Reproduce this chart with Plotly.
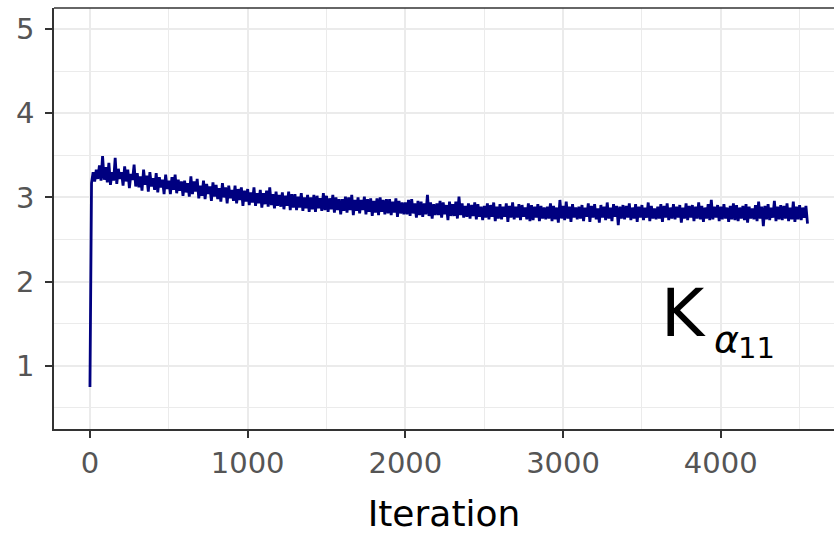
import plotly.graph_objects as go

# Trace values, one sample every 10 iterations
k_alpha11 = [
    0.75, 3.17, 3.30, 3.19, 3.33, 3.22, 3.38, 3.20, 3.49, 3.21,
    3.36, 3.18, 3.41, 3.15, 3.30, 3.20, 3.47, 3.16, 3.34, 3.22,
    3.30, 3.14, 3.37, 3.19, 3.33, 3.11, 3.28, 3.21, 3.39, 3.13,
    3.29, 3.12, 3.25, 3.08, 3.33, 3.15, 3.26, 3.07, 3.30, 3.13,
    3.23, 3.09, 3.29, 3.06, 3.24, 3.12, 3.21, 3.04, 3.27, 3.10,
    3.20, 3.04, 3.24, 3.09, 3.27, 3.05, 3.21, 3.08, 3.19, 3.02,
    3.20, 3.06, 3.17, 3.01, 3.25, 3.04, 3.19, 3.07, 3.22, 2.99,
    3.14, 3.02, 3.20, 2.98, 3.16, 3.04, 3.13, 2.96, 3.18, 3.01,
    3.15, 2.98, 3.11, 2.95, 3.17, 3.00, 3.12, 2.93, 3.14, 2.99,
    3.09, 2.96, 3.14, 2.93, 3.10, 2.97, 3.12, 2.90, 3.08, 2.95,
    3.10, 2.91, 3.06, 2.94, 3.12, 2.90, 3.05, 2.93, 3.09, 2.88,
    3.05, 2.92, 3.08, 2.89, 3.12, 2.91, 3.04, 2.87, 3.07, 2.90,
    3.03, 2.89, 3.06, 2.86, 3.02, 2.90, 3.07, 2.85, 3.04, 2.88,
    3.04, 2.85, 3.01, 2.88, 3.05, 2.84, 3.00, 2.87, 3.03, 2.83,
    3.00, 2.86, 3.03, 2.83, 3.02, 2.87, 2.99, 2.84, 3.05, 2.85,
    3.02, 2.83, 2.99, 2.86, 3.03, 2.82, 3.00, 2.85, 2.98, 2.80,
    2.98, 2.84, 3.01, 2.82, 3.00, 2.85, 3.03, 2.79, 2.97, 2.84,
    3.00, 2.81, 2.97, 2.85, 3.01, 2.80, 2.98, 2.83, 2.99, 2.78,
    2.96, 2.82, 2.99, 2.79, 3.00, 2.83, 2.97, 2.80, 2.98, 2.81,
    2.98, 2.79, 2.95, 2.82, 2.99, 2.77, 2.96, 2.81, 2.94, 2.80,
    2.94, 2.80, 2.97, 2.78, 2.98, 2.81, 2.93, 2.76, 2.96, 2.79,
    2.95, 2.77, 2.93, 2.80, 3.03, 2.78, 2.94, 2.75, 2.92, 2.79,
    2.93, 2.79, 2.96, 2.76, 2.94, 2.80, 2.91, 2.73, 2.95, 2.78,
    2.92, 2.78, 2.95, 2.75, 3.01, 2.79, 2.93, 2.76, 2.90, 2.77,
    2.93, 2.75, 2.91, 2.78, 2.94, 2.74, 2.92, 2.77, 2.89, 2.73,
    2.90, 2.76, 2.93, 2.74, 2.91, 2.77, 2.94, 2.72, 2.89, 2.75,
    2.92, 2.74, 2.89, 2.77, 2.93, 2.71, 2.90, 2.76, 2.94, 2.74,
    2.89, 2.76, 2.92, 2.73, 2.91, 2.77, 2.88, 2.74, 2.93, 2.72,
    2.91, 2.73, 2.89, 2.76, 2.92, 2.72, 2.90, 2.75, 2.88, 2.74,
    2.89, 2.75, 2.93, 2.72, 2.90, 2.74, 2.88, 2.70, 2.97, 2.75,
    2.90, 2.73, 2.95, 2.75, 2.89, 2.71, 2.92, 2.76, 2.88, 2.74,
    2.89, 2.75, 2.91, 2.72, 2.88, 2.77, 2.93, 2.71, 2.90, 2.76,
    2.92, 2.74, 2.87, 2.70, 2.91, 2.76, 2.89, 2.73, 2.94, 2.75,
    2.88, 2.72, 2.92, 2.77, 2.90, 2.67, 2.89, 2.75, 2.91, 2.74,
    2.90, 2.76, 2.93, 2.73, 2.88, 2.75, 2.92, 2.71, 2.89, 2.76,
    2.91, 2.73, 2.88, 2.76, 2.94, 2.72, 2.90, 2.75, 2.87, 2.74,
    2.89, 2.75, 2.92, 2.71, 2.90, 2.76, 2.93, 2.73, 2.88, 2.75,
    2.92, 2.74, 2.89, 2.76, 2.91, 2.70, 2.88, 2.75, 2.93, 2.73,
    2.90, 2.76, 2.91, 2.72, 2.89, 2.75, 2.94, 2.74, 2.90, 2.71,
    2.88, 2.75, 2.92, 2.73, 2.97, 2.74, 2.89, 2.76, 2.91, 2.72,
    2.89, 2.74, 2.92, 2.75, 2.88, 2.71, 2.90, 2.74, 2.93, 2.73,
    2.91, 2.72, 2.88, 2.75, 2.90, 2.73, 2.92, 2.70, 2.89, 2.75,
    2.87, 2.74, 2.91, 2.72, 2.95, 2.75, 2.89, 2.66, 2.90, 2.74,
    2.92, 2.73, 2.88, 2.76, 2.96, 2.72, 2.89, 2.74, 2.91, 2.73,
    2.90, 2.75, 2.93, 2.72, 2.88, 2.74, 2.95, 2.71, 2.89, 2.74,
    2.91, 2.73, 2.88, 2.76, 2.90, 2.69,
]
step = 10
iterations = [i * step for i in range(len(k_alpha11))]

x_ticks = [0, 1000, 2000, 3000, 4000]
y_ticks = [1, 2, 3, 4, 5]
x_title = "Iteration"

fig = go.Figure()
fig.add_trace(go.Scatter(
    x=iterations, y=k_alpha11, mode="lines",
    line=dict(color="#000080", width=2.8),
    hoverinfo="skip", showlegend=False,
))

font_fam = "DejaVu Sans"
grid = "#ebebeb"
axis_col = "#333333"

fig.update_layout(
    width=834, height=534,
    margin=dict(l=54, r=0, t=8, b=105, pad=0, autoexpand=False),
    paper_bgcolor="white", plot_bgcolor="white",
    font=dict(family=font_fam),
    xaxis=dict(
        range=[-228, 4718], tickvals=x_ticks, ticktext=[str(v) for v in x_ticks],
        showgrid=True, gridcolor=grid, gridwidth=1.5,
        minor=dict(dtick=500, tick0=500, showgrid=True, gridcolor=grid, gridwidth=1),
        showline=True, linecolor=axis_col, linewidth=1.5,
        ticks="outside", ticklen=7, tickwidth=1.5, tickcolor=axis_col,
        tickfont=dict(size=29, color="#555555", family=font_fam),
        title=dict(text=x_title, font=dict(size=36, color="black", family=font_fam), standoff=22),
        zeroline=False,
    ),
    yaxis=dict(
        range=[0.25, 5.25], tickvals=y_ticks, ticktext=[str(v) for v in y_ticks],
        showgrid=True, gridcolor=grid, gridwidth=1.5,
        minor=dict(dtick=0.5, tick0=0.5, showgrid=True, gridcolor=grid, gridwidth=1),
        showline=True, linecolor=axis_col, linewidth=1.5,
        ticks="outside", ticklen=7, tickwidth=1.5, tickcolor=axis_col,
        tickfont=dict(size=29, color="#555555", family=font_fam),
        ticklabelstandoff=5,
        zeroline=False,
    ),
    shapes=[dict(type="line", xref="paper", yref="paper", x0=0, x1=1, y0=1, y1=1,
                 line=dict(color=axis_col, width=1.5))],
    annotations=[
        dict(x=3765, y=1.62, xref="x", yref="y", text="K", showarrow=False,
             font=dict(size=66, color="black", family=font_fam), xanchor="center", yanchor="middle"),
        dict(x=4035, y=1.32, xref="x", yref="y", text="<i>α</i>", showarrow=False,
             font=dict(size=38, color="black", family=font_fam), xanchor="center", yanchor="middle"),
        dict(x=4225, y=1.21, xref="x", yref="y", text="11", showarrow=False,
             font=dict(size=29, color="black", family=font_fam), xanchor="center", yanchor="middle"),
    ],
)

fig.write_html("out.html")
